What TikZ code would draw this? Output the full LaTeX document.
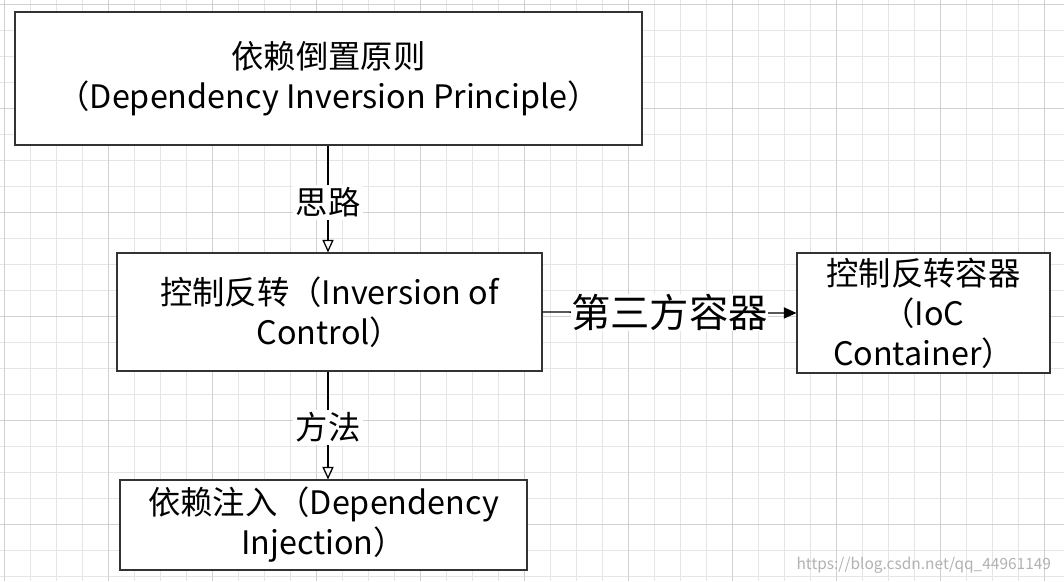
\documentclass[tikz,border=0pt]{standalone}
\usepackage{fontspec}
\setmainfont{Noto Sans CJK SC}
\usetikzlibrary{arrows.meta,positioning}
\tikzset{
  box/.style={draw=black!80,line width=0.8pt,fill=white,align=center,font=\fontsize{23}{28.5}\selectfont,
    inner sep=0pt},
  shadowbox/.style={draw=black!35,line width=1.5pt},
  link/.style={draw=black,line width=0.9pt,-{Triangle[open,length=9pt,width=8pt]}},
  lbl/.style={fill=white,inner sep=2pt,font=\fontsize{23}{28}\selectfont}
}
\begin{document}
\begin{tikzpicture}[x=0.025cm,y=-0.025cm]
        % Grid background
        \useasboundingbox (0,0) rectangle (1064,581);
        \fill[white] (0,0) rectangle (1064,581);
        \foreach \i in {0,...,41} \draw[black!10,line width=0.4pt] (\i*26+4,0) -- (\i*26+4,581);
        \foreach \j in {0,...,22} \draw[black!10,line width=0.4pt] (0,\j*26+4) -- (1064,\j*26+4);
        \foreach \i in {0,...,10} \draw[black!18,line width=0.5pt] (\i*104+4,0) -- (\i*104+4,581);
        \foreach \j in {0,...,5} \draw[black!18,line width=0.5pt] (0,\j*104+4) -- (1064,\j*104+4);
        % Boxes
        \draw[shadowbox] (15,12) rectangle (642,145);
        \node[box,minimum width=627*0.025cm,minimum height=133*0.025cm] (dip) at (328.5,78.5)
          {依赖倒置原则\\（Dependency Inversion Principle）};
        \draw[shadowbox] (117,253) rectangle (542,371);
        \node[box,minimum width=425*0.025cm,minimum height=118*0.025cm] (ioc) at (329.5,312)
          {控制反转（Inversion of\\Control）};
        \draw[shadowbox] (797,253) rectangle (1050,373);
        \node[box,minimum width=253*0.025cm,minimum height=120*0.025cm] (box) at (923.5,313)
          {控制反转容器\\（IoC\\Container）};
        \draw[shadowbox] (120,480) rectangle (527,570);
        \node[box,minimum width=407*0.025cm,minimum height=90*0.025cm] (di) at (323.5,525)
          {依赖注入（Dependency\\Injection）};
        % Links
        \draw[link] (dip.south -| 328,0) -- (ioc.north -| 328,0) node[lbl,midway,yshift=-0.08cm] {思路};
        \draw[link] (ioc.south -| 328,0) -- (di.north -| 328,0) node[lbl,midway,yshift=-0.05cm] {方法};
        \draw[link,-{Triangle[length=9pt,width=8pt]}] (ioc.east) -- (box.west)
          node[lbl,midway,inner sep=0pt,font=\fontsize{28}{32}\selectfont] {第三方容器};
        \node[text=black!30,font=\fontsize{11}{13}\selectfont,anchor=east] (mark) at (1056,565) {https://blog.csdn.net/qq\_44961149};
\end{tikzpicture}
\end{document}
